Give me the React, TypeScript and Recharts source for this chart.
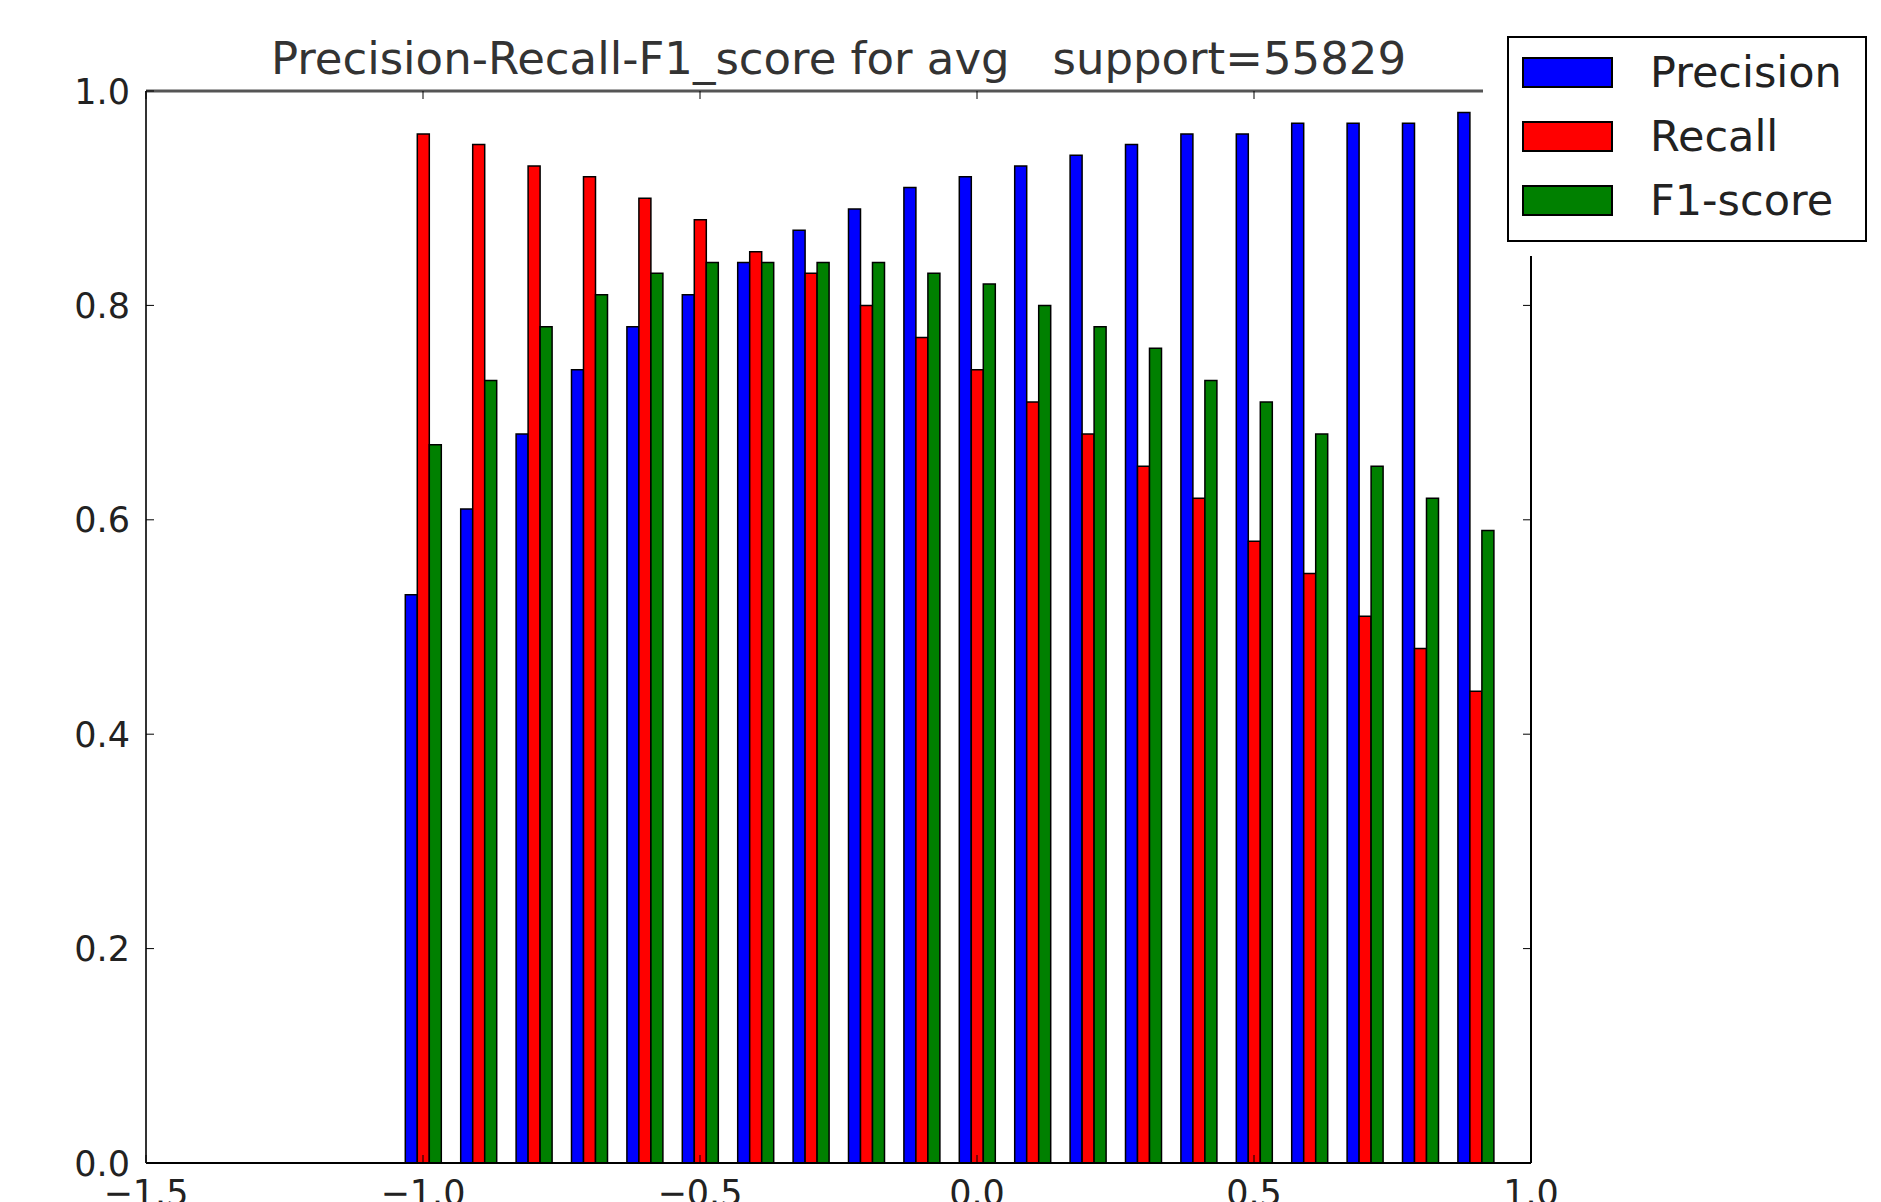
import { BarChart, Bar, XAxis, YAxis, Legend, Label } from 'recharts';

// thresholds on the x axis, one group of three bars per threshold
const thresholds = [-1.0, -0.9, -0.8, -0.7, -0.6, -0.5, -0.4, -0.3, -0.2, -0.1, 0.0, 0.1, 0.2, 0.3, 0.4, 0.5, 0.6, 0.7, 0.8, 0.9];
const precision = [0.53, 0.61, 0.68, 0.74, 0.78, 0.81, 0.84, 0.87, 0.89, 0.91, 0.92, 0.93, 0.94, 0.95, 0.96, 0.96, 0.97, 0.97, 0.97, 0.98];
const recall = [0.96, 0.95, 0.93, 0.92, 0.90, 0.88, 0.85, 0.83, 0.80, 0.77, 0.74, 0.71, 0.68, 0.65, 0.62, 0.58, 0.55, 0.51, 0.48, 0.44];
const f1Score = [0.67, 0.73, 0.78, 0.81, 0.83, 0.84, 0.84, 0.84, 0.84, 0.83, 0.82, 0.80, 0.78, 0.76, 0.73, 0.71, 0.68, 0.65, 0.62, 0.59];

const xTicks = [-1.5, -1.0, -0.5, 0.0, 0.5, 1.0];
const yTicks = [0.0, 0.2, 0.4, 0.6, 0.8, 1.0];

const TITLE = 'Precision-Recall-F1_score for avg\u00a0\u00a0\u00a0support=55829';

const SERIES = [
  { key: 'precision', label: 'Precision', color: '#0000ff' },
  { key: 'recall', label: 'Recall', color: '#ff0000' },
  { key: 'f1', label: 'F1-score', color: '#008000' },
];

const data = thresholds.map((t, i) => ({
  t,
  precision: precision[i],
  recall: recall[i],
  f1: f1Score[i],
}));

const FONT = '"DejaVu Sans", Verdana, sans-serif';
const TEXT = '#222';
const TICK_LEN = 8;

const fmt = (v: number) => v.toFixed(1).replace('-', '\u2212');

// matplotlib-style ticks: lines point into the plot, labels sit outside
function BottomTick({ x, y, payload }: any) {
  return (
    <g>
      <line x1={x} x2={x} y1={y} y2={y - TICK_LEN} stroke="#000" strokeWidth={1} />
      <text x={x} y={y + 42} textAnchor="middle" fontSize={35} fontFamily={FONT} fill={TEXT}>
        {fmt(payload.value)}
      </text>
    </g>
  );
}

function LeftTick({ x, y, payload }: any) {
  return (
    <g>
      <line x1={x} x2={x + TICK_LEN} y1={y} y2={y} stroke="#000" strokeWidth={1} />
      <text x={x - 16} y={y} dy={12.5} textAnchor="end" fontSize={35} fontFamily={FONT} fill={TEXT}>
        {fmt(payload.value)}
      </text>
    </g>
  );
}

function TopTick({ x, y }: any) {
  return <line x1={x} x2={x} y1={y} y2={y + TICK_LEN} stroke="#000" strokeWidth={1} />;
}

function RightTick({ x, y }: any) {
  return <line x1={x} x2={x - TICK_LEN} y1={y} y2={y} stroke="#000" strokeWidth={1} />;
}

function LegendBox() {
  return (
    <div style={{ position: 'relative', width: '100%', height: '100%', background: '#fff' }}>
      <div
        style={{
          position: 'absolute',
          left: 24,
          top: 16,
          width: 356,
          height: 202,
          border: '2px solid #000',
          background: '#fff',
          fontFamily: FONT,
        }}
      >
        {SERIES.map((s, i) => (
          <div key={s.key} style={{ position: 'absolute', left: 13, top: 19 + i * 64, height: 31, width: 340 }}>
            <span
              style={{
                position: 'absolute',
                left: 0,
                top: 0,
                width: 87,
                height: 27,
                background: s.color,
                border: '2px solid #000',
              }}
            />
            <span
              style={{
                position: 'absolute',
                left: 128,
                top: -11,
                fontSize: 43,
                lineHeight: '52px',
                color: TEXT,
                whiteSpace: 'nowrap',
              }}
            >
              {s.label}
            </span>
          </div>
        ))}
      </div>
    </div>
  );
}

export default function App() {
  return (
    <div style={{ position: 'absolute', left: 0, top: 0, width: 1881, height: 1202, background: '#fff' }}>
      <BarChart
        width={1881}
        height={1202}
        data={data}
        margin={{ top: 90, right: 349, bottom: 0, left: 0 }}
        barGap={0}
        barSize={12}
      >
        <XAxis
          dataKey="t"
          type="number"
          domain={[-1.5, 1.0]}
          ticks={xTicks}
          interval={0}
          allowDataOverflow
          height={39}
          tickSize={0}
          tickMargin={0}
          tickLine={false}
          axisLine={{ stroke: '#000', strokeWidth: 2 }}
          tick={<BottomTick />}
        />
        <XAxis
          xAxisId="top"
          orientation="top"
          dataKey="t"
          type="number"
          domain={[-1.5, 1.0]}
          ticks={xTicks}
          interval={0}
          allowDataOverflow
          height={1}
          tickSize={0}
          tickMargin={0}
          tickLine={false}
          axisLine={{ stroke: '#555', strokeWidth: 3 }}
          tick={<TopTick />}
        >
          <Label value={TITLE} position="top" offset={16} fontSize={45} fontFamily={FONT} fill="#333" />
        </XAxis>
        <YAxis
          type="number"
          domain={[0, 1]}
          ticks={yTicks}
          interval={0}
          allowDataOverflow
          width={146}
          tickSize={0}
          tickMargin={0}
          tickLine={false}
          axisLine={{ stroke: '#333', strokeWidth: 2 }}
          tick={<LeftTick />}
        />
        <YAxis
          yAxisId="right"
          orientation="right"
          type="number"
          domain={[0, 1]}
          ticks={yTicks}
          interval={0}
          allowDataOverflow
          width={1}
          tickSize={0}
          tickMargin={0}
          tickLine={false}
          axisLine={{ stroke: '#000', strokeWidth: 2 }}
          tick={<RightTick />}
        />
        {SERIES.map((s) => (
          <Bar
            key={s.key}
            dataKey={s.key}
            name={s.label}
            fill={s.color}
            stroke="#000"
            strokeWidth={1.5}
            isAnimationActive={false}
          />
        ))}
        <Legend
          layout="horizontal"
          verticalAlign="middle"
          align="center"
          wrapperStyle={{ left: 1483, top: 20, width: 398, height: 236 }}
          content={<LegendBox />}
        />
      </BarChart>
    </div>
  );
}
